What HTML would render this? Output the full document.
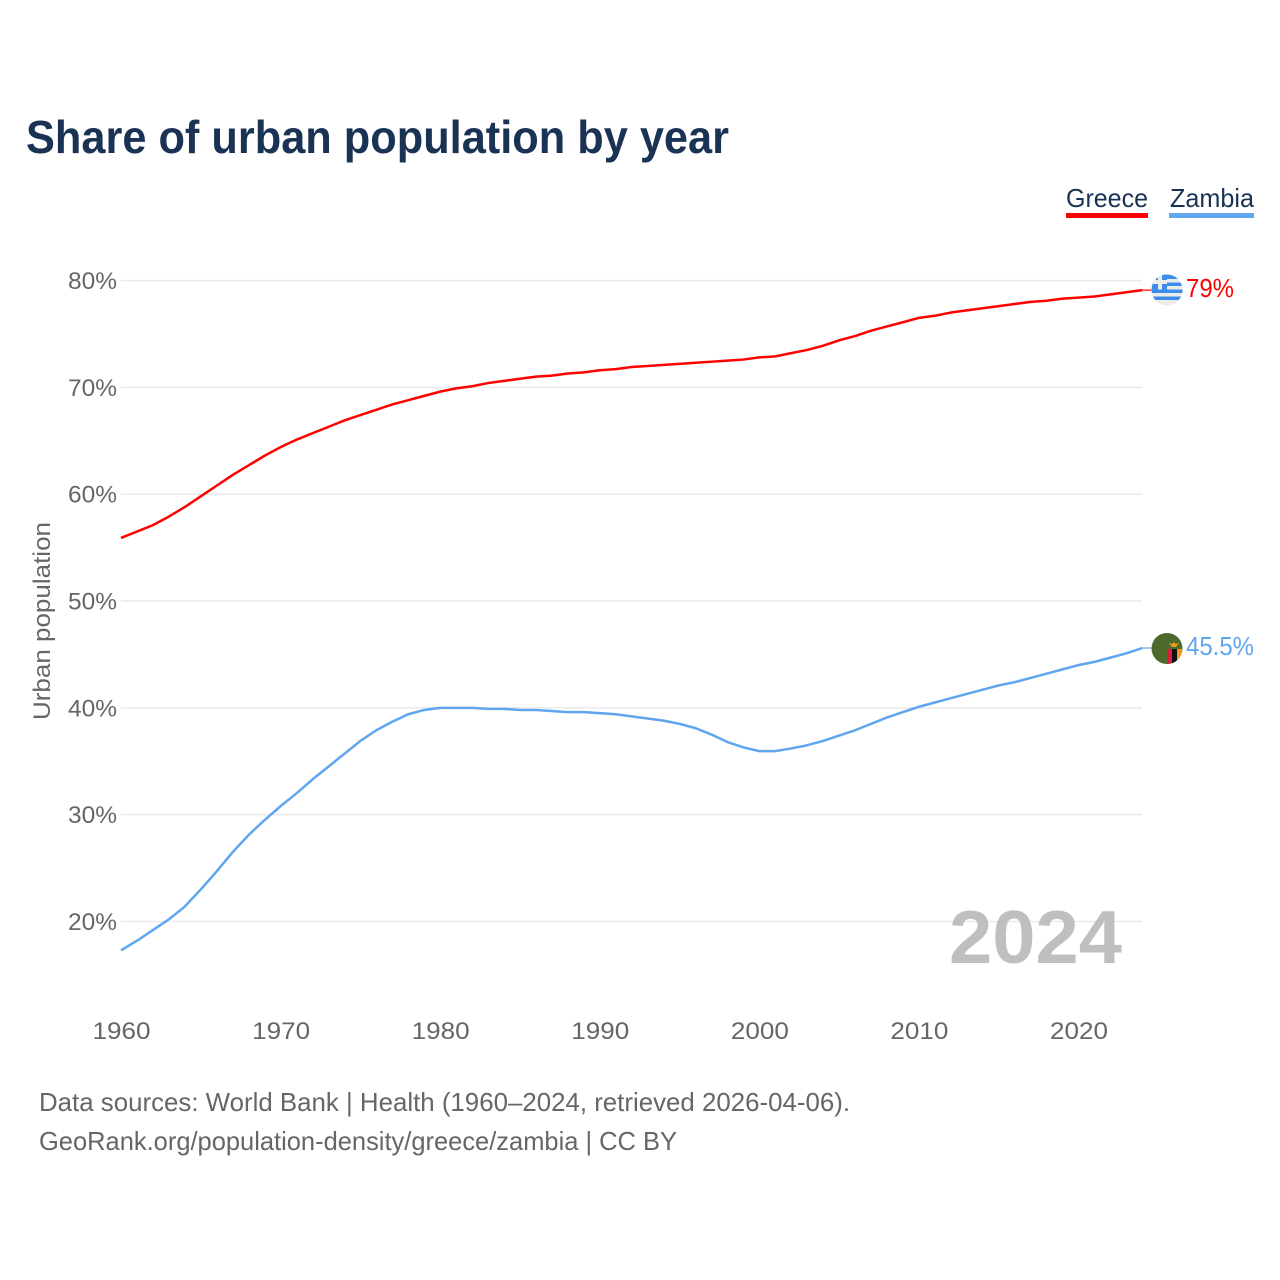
<!DOCTYPE html>
<html lang="en">
<head>
<meta charset="utf-8">
<title>Share of urban population by year</title>
<style>
html,body{margin:0;padding:0;background:#fff;width:1280px;height:1280px;overflow:hidden}
svg{display:block}
text{font-family:"Liberation Sans",sans-serif}
</style>
</head>
<body>
<svg id="chart" xmlns="http://www.w3.org/2000/svg" width="1280" height="1280" viewBox="0 0 1280 1280">
  <defs>
    <clipPath id="clip-gr"><circle cx="1167" cy="290" r="15.5"/></clipPath>
    <clipPath id="clip-zm"><circle cx="1167" cy="648.5" r="15.5"/></clipPath>
  </defs>
  <rect x="0" y="0" width="1280" height="1280" fill="#fff"/>
  <text x="26" y="153" font-size="46" font-weight="700" fill="#1a3354" textLength="703" lengthAdjust="spacingAndGlyphs">Share of urban population by year</text>
  <g id="grid"></g>
  <g id="yticks"></g>
  <g id="xticks"></g>
  <text transform="translate(50,621) rotate(-90)" text-anchor="middle" font-size="24" fill="#666" textLength="198" lengthAdjust="spacingAndGlyphs">Urban population</text>
  <text x="949" y="963" font-size="75" font-weight="700" fill="#bfbfbf" textLength="173" lengthAdjust="spacingAndGlyphs">2024</text>
  <path id="stub-greece" fill="none" stroke="#ff0000" stroke-width="1.2"/>
  <path id="stub-zambia" fill="none" stroke="#5fa6ee" stroke-width="1.2"/>
  <path id="line-greece" fill="none" stroke="#ff0000" stroke-width="2.5" stroke-linejoin="round"/>
  <path id="line-zambia" fill="none" stroke="#5fa6ee" stroke-width="2.5" stroke-linejoin="round"/>
  <g>
    <text x="1066" y="207" font-size="26" fill="#1a3354" textLength="82" lengthAdjust="spacingAndGlyphs">Greece</text>
    <rect x="1066" y="213" width="82" height="5" fill="#ff0000"/>
  </g>
  <g>
    <text x="1170" y="207" font-size="26" fill="#1a3354" textLength="84" lengthAdjust="spacingAndGlyphs">Zambia</text>
    <rect x="1169" y="213" width="85" height="5" fill="#5fa6ee"/>
  </g>
  <g clip-path="url(#clip-gr)">
    <rect x="1151" y="274" width="32" height="32" fill="#ececec"/>
    <rect x="1151" y="274" width="32" height="5" fill="#3d8eeb"/>
    <rect x="1151" y="282.5" width="32" height="3.5" fill="#3d8eeb"/>
    <rect x="1151" y="289.5" width="32" height="3.5" fill="#3d8eeb"/>
    <rect x="1151" y="296.5" width="32" height="3.5" fill="#3d8eeb"/>
    <rect x="1151" y="274" width="16" height="15.5" fill="#3d8eeb"/>
    <rect x="1158" y="274" width="4" height="15.5" fill="#ececec"/>
    <rect x="1151" y="280" width="16" height="4" fill="#ececec"/>
  </g>
  <g clip-path="url(#clip-zm)">
    <rect x="1151" y="633" width="32" height="32" fill="#4a6b2c"/>
    <rect x="1167" y="649" width="5" height="16" fill="#d9203a"/>
    <rect x="1172" y="649" width="5" height="16" fill="#111"/>
    <rect x="1177" y="649" width="6" height="16" fill="#f09a20"/>
    <path d="M1169 643l3.5 1 1.5-2 1.5 2 3.5-1-3 4h-4z" fill="#f09a20"/>
  </g>
  <text x="1186" y="297" font-size="26" fill="#ff0000" textLength="48" lengthAdjust="spacingAndGlyphs">79%</text>
  <text x="1186" y="655" font-size="26" fill="#5fa6ee" textLength="68" lengthAdjust="spacingAndGlyphs">45.5%</text>
  <text x="39" y="1111" font-size="26" fill="#666" textLength="811" lengthAdjust="spacingAndGlyphs">Data sources: World Bank | Health (1960–2024, retrieved 2026-04-06).</text>
  <text x="39" y="1150" font-size="26" fill="#666" textLength="638" lengthAdjust="spacingAndGlyphs">GeoRank.org/population-density/greece/zambia | CC BY</text>
</svg>
<script>
const years = [1960,1961,1962,1963,1964,1965,1966,1967,1968,1969,1970,1971,1972,1973,1974,1975,1976,1977,1978,1979,1980,1981,1982,1983,1984,1985,1986,1987,1988,1989,1990,1991,1992,1993,1994,1995,1996,1997,1998,1999,2000,2001,2002,2003,2004,2005,2006,2007,2008,2009,2010,2011,2012,2013,2014,2015,2016,2017,2018,2019,2020,2021,2022,2023,2024];
const greece = [55.9,56.5,57.1,57.9,58.8,59.8,60.8,61.8,62.7,63.6,64.4,65.1,65.7,66.3,66.9,67.4,67.9,68.4,68.8,69.2,69.6,69.9,70.1,70.4,70.6,70.8,71.0,71.1,71.3,71.4,71.6,71.7,71.9,72.0,72.1,72.2,72.3,72.4,72.5,72.6,72.8,72.9,73.2,73.5,73.9,74.4,74.8,75.3,75.7,76.1,76.5,76.7,77.0,77.2,77.4,77.6,77.8,78.0,78.1,78.3,78.4,78.5,78.7,78.9,79.1];
const zambia = [17.3,18.2,19.2,20.2,21.4,23.0,24.7,26.5,28.1,29.5,30.8,32.0,33.3,34.5,35.7,36.9,37.9,38.7,39.4,39.8,40.0,40.0,40.0,39.9,39.9,39.8,39.8,39.7,39.6,39.6,39.5,39.4,39.2,39.0,38.8,38.5,38.1,37.5,36.8,36.3,35.95,35.95,36.2,36.5,36.9,37.4,37.9,38.5,39.1,39.6,40.1,40.5,40.9,41.3,41.7,42.1,42.4,42.8,43.2,43.6,44.0,44.3,44.7,45.1,45.6];
const yTickValues = [20,30,40,50,60,70,80];
const xTickValues = [1960,1970,1980,1990,2000,2010,2020];

const NS = 'http://www.w3.org/2000/svg';
function xScale(year){ return 121 + (year - 1960) * (1078.5 - 121) / 60; }
function yScale(pct){ return 921.5 - (pct - 20) * (921.5 - 280.5) / 60; }
function linePath(values){
  return values.map(function(v,i){ return (i ? 'L' : 'M') + xScale(years[i]).toFixed(2) + ' ' + yScale(v).toFixed(2); }).join('');
}
function stubPath(values){
  const last = values[values.length-1];
  const x = xScale(years[years.length-1]);
  return 'M' + x.toFixed(2) + ' ' + yScale(last).toFixed(2) + 'L' + (x + 9).toFixed(2) + ' ' + yScale(last).toFixed(2);
}
const grid = document.getElementById('grid');
const yticks = document.getElementById('yticks');
const xticks = document.getElementById('xticks');
yTickValues.forEach(function(v){
  const ln = document.createElementNS(NS,'line');
  
  
  ln.setAttribute('x1', 121);
  ln.setAttribute('x2', 1142);
  ln.setAttribute('y1', yScale(v));
  ln.setAttribute('y2', yScale(v));
  ln.setAttribute('stroke', '#eaeaea');
  ln.setAttribute('stroke-width', '1.5');
  grid.appendChild(ln);
  const t = document.createElementNS(NS,'text');
  
  
  t.setAttribute('x', 68);
  t.setAttribute('y', yScale(v) + 8.5);
  t.setAttribute('font-size', '24');
  t.setAttribute('fill', '#666');
  t.setAttribute('textLength', '49');
  t.setAttribute('lengthAdjust', 'spacingAndGlyphs');
  t.textContent = v + '%';
  yticks.appendChild(t);
});
xTickValues.forEach(function(y){
  const t = document.createElementNS(NS,'text');
  
  
  t.setAttribute('x', xScale(y) - 28.5);
  t.setAttribute('y', 1039);
  t.setAttribute('font-size', '24');
  t.setAttribute('fill', '#666');
  t.setAttribute('textLength', '58');
  t.setAttribute('lengthAdjust', 'spacingAndGlyphs');
  t.textContent = y;
  xticks.appendChild(t);
});
document.getElementById('line-greece').setAttribute('d', linePath(greece));
document.getElementById('line-zambia').setAttribute('d', linePath(zambia));
document.getElementById('stub-greece').setAttribute('d', stubPath(greece));
document.getElementById('stub-zambia').setAttribute('d', stubPath(zambia));
</script>
</body>
</html>
